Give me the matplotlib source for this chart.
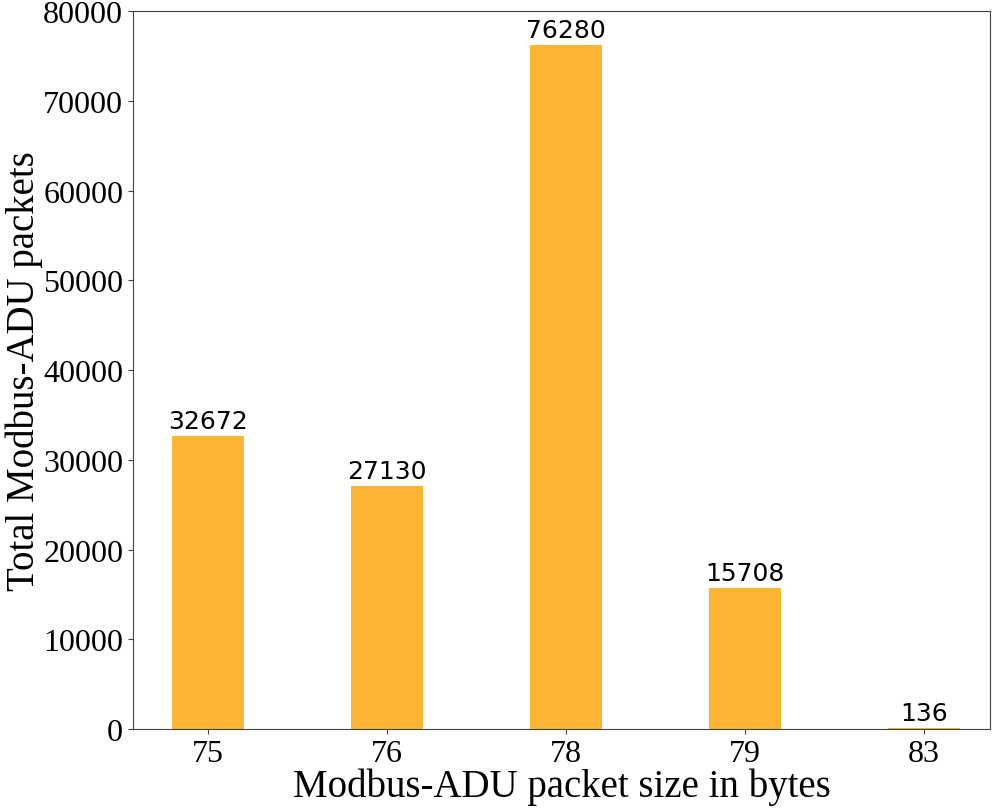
import numpy as np
import matplotlib.pyplot as plt

sizes = ['75', '76', '78', '79', '83']
packets = [32672, 27130, 76280, 15708, 136]

plt.rcParams['font.family'] = ['Liberation Serif', 'DejaVu Serif']

fig = plt.figure(figsize=(10.05, 8.12), dpi=100)
ax = fig.add_axes([0.1323, 0.101, 0.853, 0.884])

x = np.arange(len(sizes))
bars = ax.bar(x, packets, width=0.4, color='#FBB532')
ax.bar_label(bars, labels=[str(v) for v in packets], padding=2,
             fontsize=18, family='DejaVu Sans')

ax.set_xticks(x)
ax.set_xticklabels(sizes)
ax.set_xlim(-0.42, 4.37)
ax.set_ylim(0, 80000)
ax.set_yticks(np.arange(0, 80001, 10000))
ax.tick_params(labelsize=23, color='#444444')
for s in ax.spines.values():
    s.set_color('#444444')

ax.set_xlabel('Modbus-ADU packet size in bytes', fontsize=28, labelpad=0)
ax.set_ylabel('Total Modbus-ADU packets', fontsize=28, labelpad=0)

fig.savefig('out.png', dpi=100)
